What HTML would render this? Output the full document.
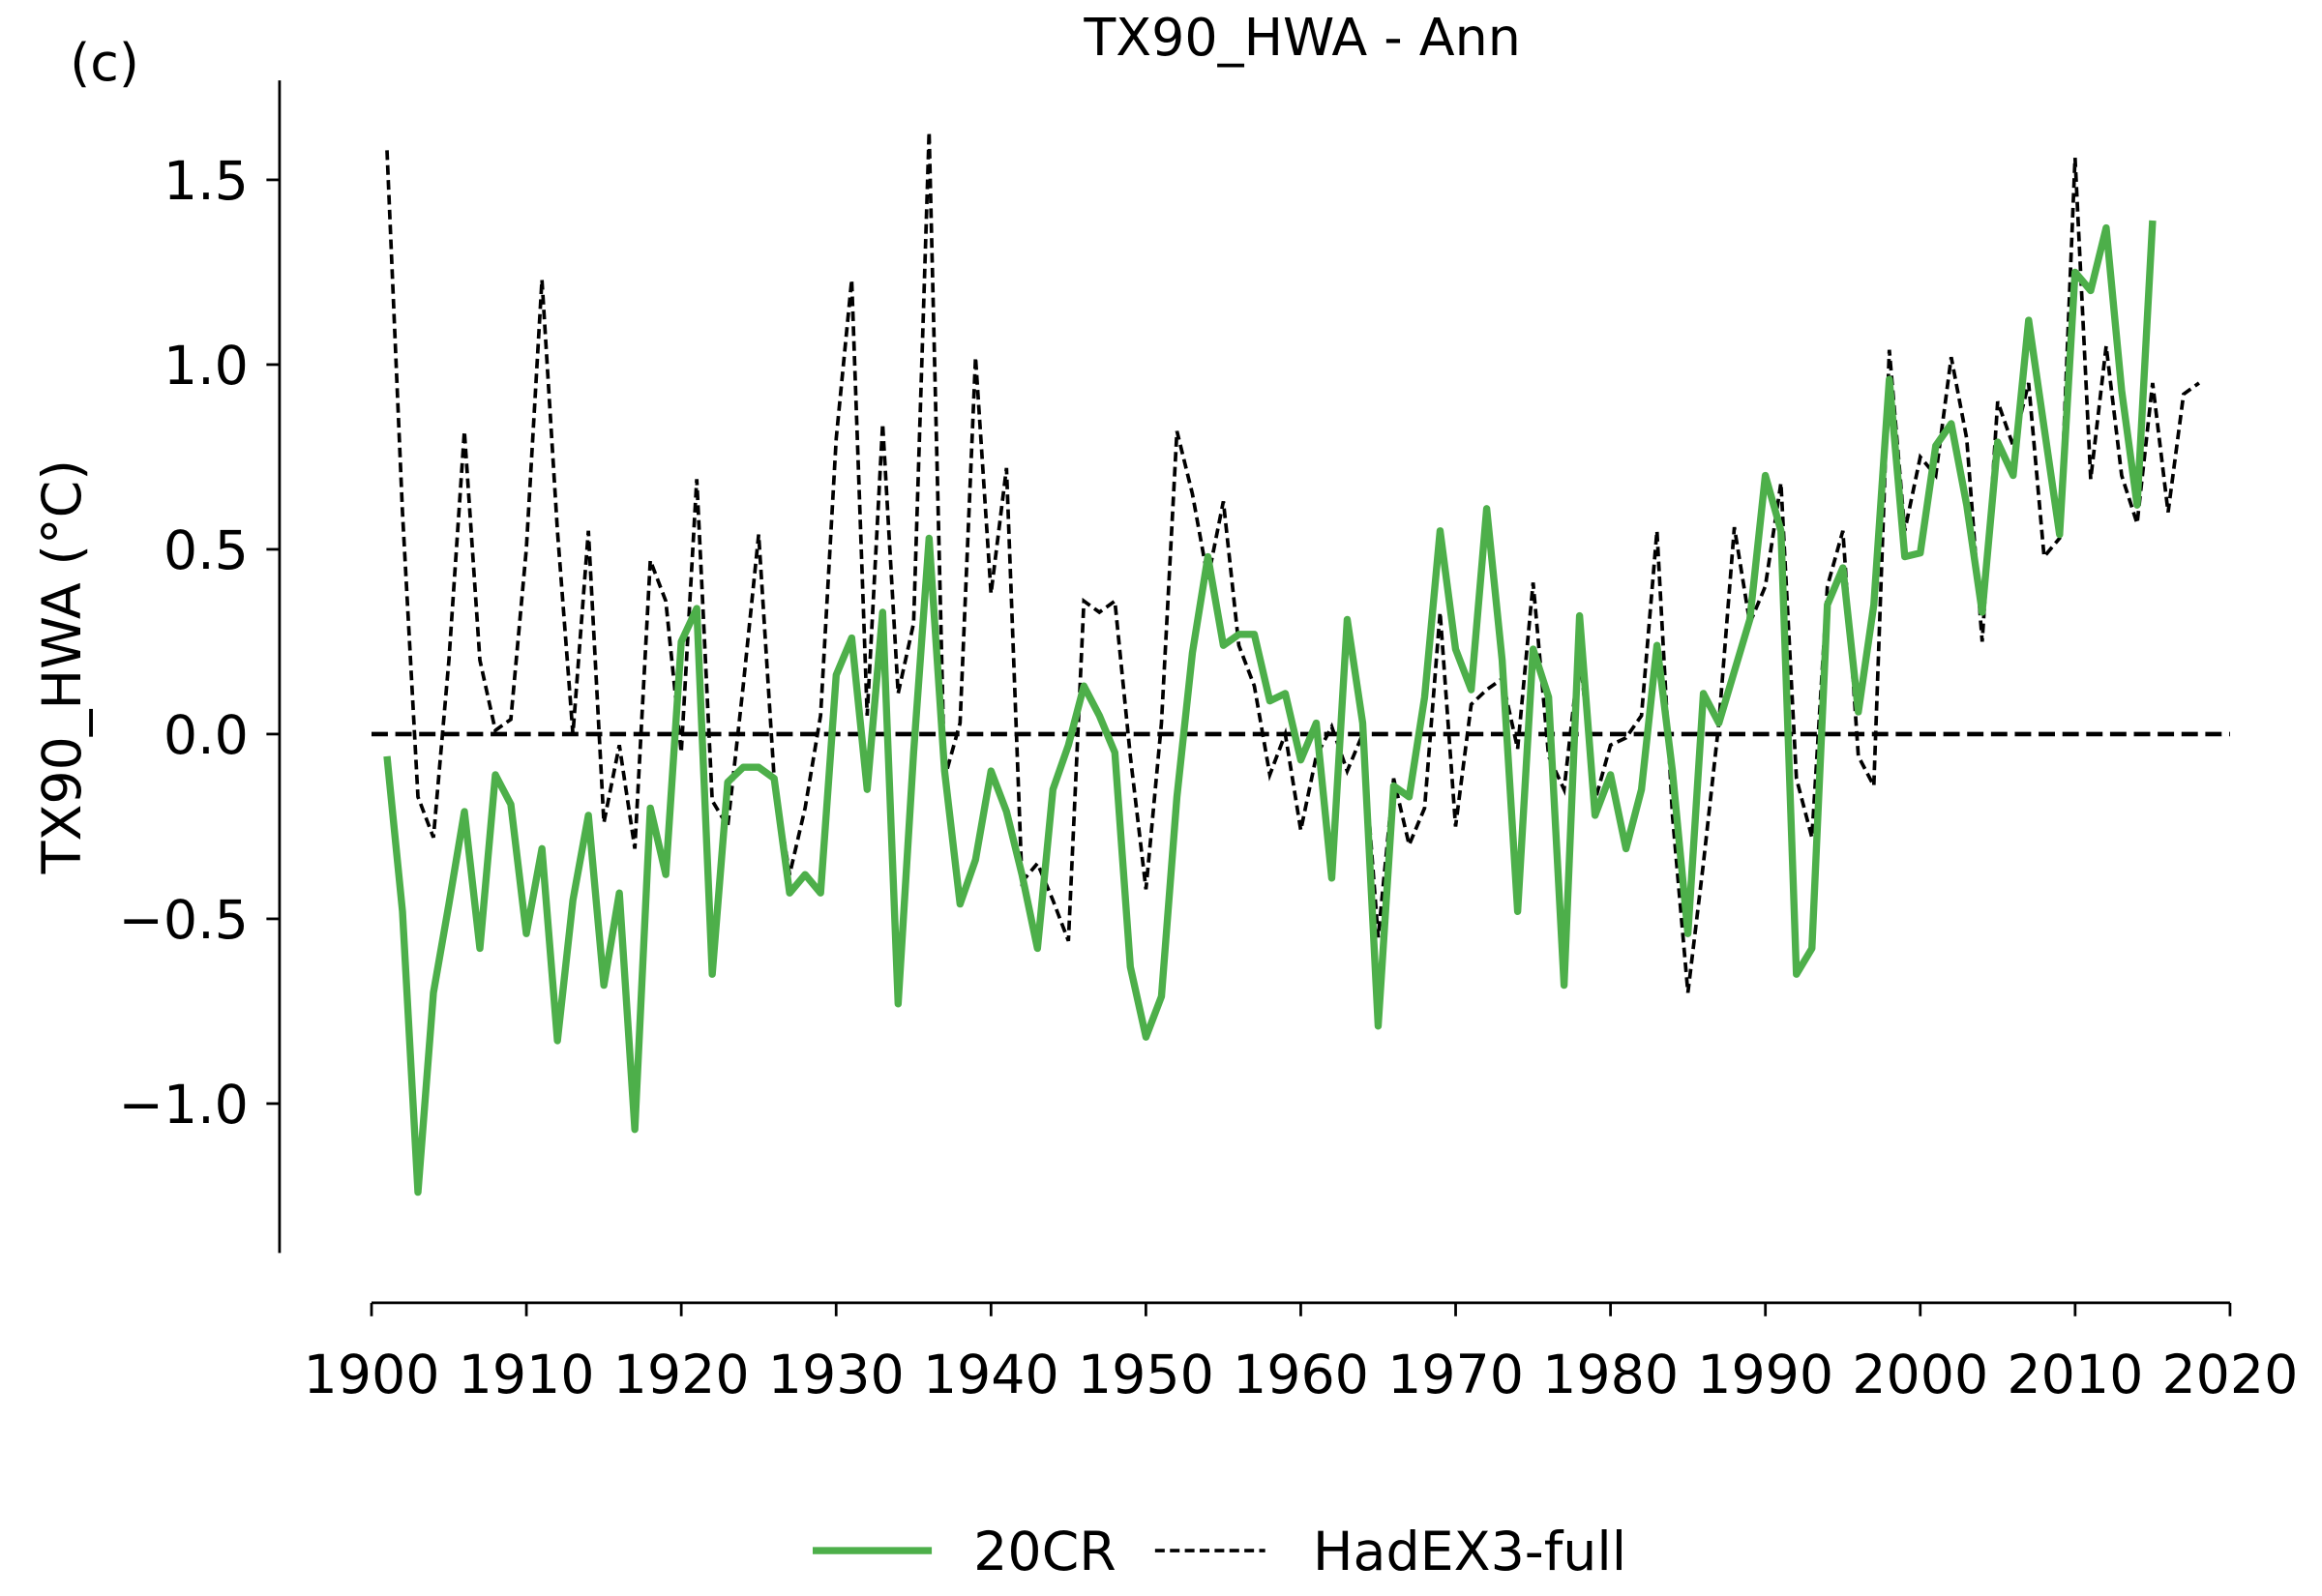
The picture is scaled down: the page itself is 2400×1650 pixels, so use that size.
<!DOCTYPE html>
<html><head><meta charset="utf-8"><style>
html,body{margin:0;padding:0;background:#fff}
svg{display:block}
text{font-family:"DejaVu Sans","Liberation Sans",sans-serif;fill:#000}
</style></head><body>
<svg id="s" width="2400" height="1650" viewBox="0 0 1560 1072.5" xmlns="http://www.w3.org/2000/svg">
<text x="875" y="37" font-size="35" text-anchor="middle">TX90_HWA - Ann</text>
<text x="47" y="54" font-size="35">(c)</text>
<line x1="187.8" y1="54" x2="187.8" y2="842" stroke="#000" stroke-width="1.8"/>
<line x1="249.6" y1="875.5" x2="1498.2" y2="875.5" stroke="#000" stroke-width="1.8"/>
<g id="yt" font-size="36" text-anchor="end"></g>
<g id="xt" font-size="36" text-anchor="middle"></g>
<text transform="translate(54,448) rotate(-90)" font-size="36" text-anchor="middle">TX90_HWA (°C)</text>
<line x1="249.6" y1="493.3" x2="1498.2" y2="493.3" stroke="#000" stroke-width="3" stroke-dasharray="11,5"/>
<polyline id="blk" fill="none" stroke="#000" stroke-width="2.4" stroke-dasharray="6.5,3.5"/>
<polyline id="grn" fill="none" stroke="#4daf4a" stroke-width="4.8" stroke-linejoin="round"/>
<line x1="546" y1="1042" x2="626" y2="1042" stroke="#4daf4a" stroke-width="4.8"/>
<text x="654" y="1055" font-size="36">20CR</text>
<line x1="776" y1="1042" x2="850" y2="1042" stroke="#000" stroke-width="2.4" stroke-dasharray="6.5,3.5"/>
<text x="882" y="1055" font-size="36">HadEX3-full</text>
</svg>
<script>
var X=function(y){return 249.6+(y-1900)*10.405},Y=function(v){return 493.3-v*248.3};
var yt=document.getElementById('yt'),xt=document.getElementById('xt'),h='';
[1.5,1.0,0.5,0,-0.5,-1.0].forEach(function(v){var y=Y(v);h+='<line x1="179" x2="187.8" y1="'+y+'" y2="'+y+'" stroke="#000" stroke-width="1.8"/><text x="167" y="'+(y+13)+'">'+(v<0?'\u2212':'')+Math.abs(v).toFixed(1)+'</text>';});
yt.innerHTML=h;h='';
for(var yr=1900;yr<=2020;yr+=10){var x=X(yr);h+='<line x1="'+x+'" x2="'+x+'" y1="875.5" y2="884.5" stroke="#000" stroke-width="1.8"/><text x="'+x+'" y="936">'+yr+'</text>';}
xt.innerHTML=h;
var g=[-0.06,-0.48,-1.24,-0.70,-0.46,-0.21,-0.58,-0.11,-0.19,-0.54,-0.31,-0.83,-0.45,-0.22,-0.68,-0.43,-1.07,-0.20,-0.38,0.25,0.34,-0.65,-0.13,-0.09,-0.09,-0.12,-0.43,-0.38,-0.43,0.16,0.26,-0.15,0.33,-0.73,-0.05,0.53,-0.10,-0.46,-0.34,-0.10,-0.21,-0.38,-0.58,-0.15,-0.03,0.13,0.05,-0.05,-0.63,-0.82,-0.71,-0.17,0.22,0.48,0.24,0.27,0.27,0.09,0.11,-0.07,0.03,-0.39,0.31,0.03,-0.79,-0.14,-0.17,0.10,0.55,0.23,0.12,0.61,0.20,-0.48,0.23,0.10,-0.68,0.32,-0.22,-0.11,-0.31,-0.15,0.24,-0.10,-0.54,0.11,0.03,0.17,0.31,0.70,0.55,-0.65,-0.58,0.35,0.45,0.06,0.35,0.96,0.48,0.49,0.78,0.84,0.62,0.33,0.79,0.70,1.12,0.83,0.54,1.25,1.20,1.37,0.93,0.62,1.39];
var b=[1.58,0.60,-0.17,-0.28,0.20,0.82,0.20,0.01,0.04,0.50,1.23,0.55,0.00,0.55,-0.24,-0.03,-0.31,0.47,0.36,-0.05,0.69,-0.18,-0.25,0.13,0.54,-0.12,-0.38,-0.20,0.05,0.80,1.23,0.05,0.84,0.11,0.30,1.63,-0.12,0.03,1.02,0.38,0.72,-0.40,-0.35,-0.45,-0.56,0.36,0.33,0.36,-0.06,-0.42,0.03,0.82,0.65,0.42,0.63,0.24,0.13,-0.11,0.00,-0.26,-0.06,0.02,-0.10,0.00,-0.55,-0.12,-0.30,-0.20,0.33,-0.25,0.08,0.12,0.15,-0.04,0.41,-0.06,-0.15,0.22,-0.18,-0.03,-0.01,0.05,0.55,-0.22,-0.70,-0.35,0.03,0.56,0.30,0.40,0.68,-0.12,-0.28,0.40,0.55,-0.06,-0.14,1.04,0.55,0.75,0.70,1.02,0.80,0.25,0.90,0.78,0.95,0.48,0.53,1.56,0.69,1.05,0.70,0.57,0.95,0.60,0.92,0.95];
function pts(a){return a.map(function(v,i){return X(1901+i).toFixed(1)+','+Y(v).toFixed(1)}).join(' ')}
document.getElementById('grn').setAttribute('points',pts(g));
document.getElementById('blk').setAttribute('points',pts(b));
</script>
</body></html>
